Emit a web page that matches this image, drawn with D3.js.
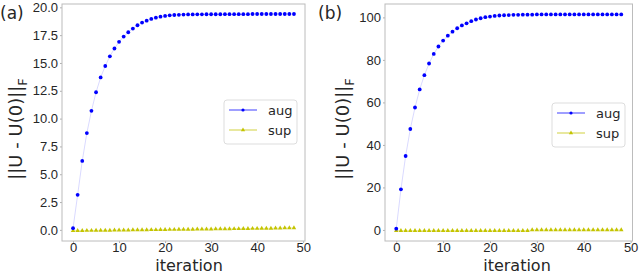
<!DOCTYPE html>
<html>
<head>
<meta charset="utf-8">
<script src="https://cdn.jsdelivr.net/npm/d3@7"></script>
<style>
  body { margin: 0; background: #fff; }
  svg { display: block; font-family: "DejaVu Sans", sans-serif; }
  .tick text { fill: #262626; font-size: 13px; }
  .tick line { stroke: #b0b0b0; }
  .domain { display: none; }
</style>
</head>
<body>
<div id="chart"></div>
<script>
// iteration index shared by all series
var iterations = d3.range(0, 49);

// panel (a)
var augA = [0.15, 3.15, 6.2, 8.7, 10.7, 12.37, 13.7, 14.73, 15.6, 16.3,
  16.9, 17.37, 17.76, 18.09, 18.39, 18.63, 18.8, 18.96, 19.07, 19.16,
  19.23, 19.28, 19.31, 19.33, 19.35, 19.36, 19.36, 19.37, 19.37, 19.38,
  19.38, 19.38, 19.38, 19.39, 19.39, 19.39, 19.39, 19.39, 19.39, 19.4,
  19.4, 19.4, 19.4, 19.4, 19.4, 19.4, 19.4, 19.4, 19.4];
var supA = [-0.08, -0.07, -0.07, -0.06, -0.06, -0.05, -0.05, -0.04, -0.04, -0.03,
  -0.03, -0.02, -0.02, -0.01, -0.01, 0.0, 0.0, 0.01, 0.01, 0.02,
  0.02, 0.03, 0.03, 0.04, 0.04, 0.05, 0.05, 0.06, 0.06, 0.07,
  0.07, 0.08, 0.08, 0.09, 0.09, 0.1, 0.1, 0.11, 0.11, 0.12,
  0.12, 0.13, 0.13, 0.14, 0.15, 0.16, 0.17, 0.18, 0.18];
var yTicksA = [0, 2.5, 5, 7.5, 10, 12.5, 15, 17.5, 20];

// panel (b)
var augB = [0.6, 19.1, 34.8, 47.5, 57.6, 66.1, 72.8, 78.3, 82.8, 86.3,
  89.1, 91.4, 93.3, 94.9, 96.2, 97.2, 98.2, 99.0, 99.6, 100.1,
  100.4, 100.7, 100.9, 101.0, 101.1, 101.2, 101.2, 101.3, 101.3, 101.3,
  101.4, 101.4, 101.4, 101.4, 101.4, 101.4, 101.4, 101.4, 101.4, 101.4,
  101.4, 101.4, 101.4, 101.4, 101.4, 101.4, 101.4, 101.4, 101.4];
var supB = [-0.3, -0.35, -0.35, -0.35, -0.3, -0.3, -0.35, -0.3, -0.3, -0.3,
  -0.3, -0.3, -0.3, -0.3, -0.3, -0.3, -0.3, -0.3, -0.3, -0.3,
  -0.3, -0.3, -0.3, -0.3, -0.3, -0.3, -0.3, -0.3, -0.3, 0.0,
  0.0, 0.0, 0.0, 0.0, 0.0, 0.0, 0.0, 0.0, 0.0, 0.0,
  0.0, 0.0, 0.0, 0.0, 0.0, 0.0, 0.0, 0.0, 0.0];
var yTicksB = [0, 20, 40, 60, 80, 100];

var xTicks = [0, 10, 20, 30, 40, 50];
var seriesNames = ["aug", "sup"];

var augColor = "#0000ff";
var supColor = "#c4c400";

var svg = d3.select("#chart").append("svg")
  .attr("width", 640)
  .attr("height", 275);

function drawPanel(config) {
  var x = d3.scaleLinear().domain([-2.4, 50.4]).range([config.left, config.right]);
  var y = d3.scaleLinear().domain(config.yDomain).range([241, 4]);

  var g = svg.append("g");

  g.append("g")
    .attr("transform", "translate(0,241)")
    .call(d3.axisBottom(x).tickValues(xTicks).tickSize(2).tickPadding(0));

  g.append("g")
    .attr("transform", "translate(" + config.left + ",0)")
    .call(d3.axisLeft(y).tickValues(config.yTicks).tickSize(2).tickPadding(2)
      .tickFormat(d3.format(config.yFormat)));

  g.append("rect")
    .attr("x", config.left)
    .attr("y", 4)
    .attr("width", config.right - config.left)
    .attr("height", 237)
    .attr("fill", "none")
    .attr("stroke", "#bcbcbc")
    .attr("stroke-width", 1);

  var line = d3.line()
    .x(function (d, i) { return x(iterations[i]); })
    .y(function (d) { return y(d); });

  g.append("path")
    .datum(config.aug)
    .attr("d", line)
    .attr("fill", "none")
    .attr("stroke", augColor)
    .attr("stroke-opacity", 0.15)
    .attr("stroke-width", 1);

  g.append("path")
    .datum(config.sup)
    .attr("d", line)
    .attr("fill", "none")
    .attr("stroke", supColor)
    .attr("stroke-opacity", 0.3)
    .attr("stroke-width", 1);

  g.selectAll(".sup-pt")
    .data(config.sup)
    .enter()
    .append("path")
    .attr("class", "sup-pt")
    .attr("d", d3.symbol().type(d3.symbolTriangle).size(9))
    .attr("transform", function (d, i) {
      return "translate(" + x(iterations[i]) + "," + y(d) + ")";
    })
    .attr("fill", supColor);

  g.selectAll(".aug-pt")
    .data(config.aug)
    .enter()
    .append("circle")
    .attr("class", "aug-pt")
    .attr("cx", function (d, i) { return x(iterations[i]); })
    .attr("cy", function (d) { return y(d); })
    .attr("r", 1.9)
    .attr("fill", augColor);

  // legend
  var lg = g.append("g").attr("transform", "translate(" + config.legendX + "," + config.legendY + ")");
  lg.append("rect")
    .attr("x", 0).attr("y", 0)
    .attr("width", 73).attr("height", 44)
    .attr("rx", 3)
    .attr("fill", "#fff")
    .attr("stroke", "#dddddd");

  var colors = [augColor, supColor];
  seriesNames.forEach(function (name, i) {
    var ly = 10 + i * 20;
    lg.append("line")
      .attr("x1", 5).attr("x2", 33)
      .attr("y1", ly).attr("y2", ly)
      .attr("stroke", colors[i])
      .attr("stroke-opacity", 0.5)
      .attr("stroke-width", 1.5);
    if (i === 0) {
      lg.append("circle").attr("cx", 19).attr("cy", ly).attr("r", 1.6).attr("fill", colors[i]);
    } else {
      lg.append("path")
        .attr("d", d3.symbol().type(d3.symbolTriangle).size(8))
        .attr("transform", "translate(19," + ly + ")")
        .attr("fill", colors[i]);
    }
    lg.append("text")
      .attr("x", 44)
      .attr("y", ly + 4.5)
      .attr("font-size", 13)
      .attr("fill", "#262626")
      .text(name);
  });

  // panel letter
  g.append("text")
    .attr("x", config.letterX)
    .attr("y", 19)
    .attr("font-size", 17)
    .attr("fill", "#262626")
    .text(config.letter);

  // y label
  var yl = g.append("text")
    .attr("transform", "translate(" + config.ylabelX + ",129) rotate(-90)")
    .attr("text-anchor", "middle")
    .attr("font-size", 18)
    .attr("fill", "#262626");
  yl.append("tspan").text("||U - U(0)||");
  yl.append("tspan").attr("dy", 5).attr("font-size", 13).text("F");

  // x label
  g.append("text")
    .attr("x", config.xlabelX)
    .attr("y", 270.5)
    .attr("text-anchor", "middle")
    .attr("font-size", 16)
    .attr("fill", "#262626")
    .text("iteration");
}

drawPanel({
  left: 62, right: 305,
  yDomain: [-1.0, 20.3], yTicks: yTicksA, yFormat: ".1f",
  aug: augA, sup: supA,
  legendX: 224, legendY: 100,
  letter: "(a)", letterX: 0,
  ylabelX: 22, xlabelX: 189
});

drawPanel({
  left: 385, right: 632.5,
  yDomain: [-5.2, 106.3], yTicks: yTicksB, yFormat: "d",
  aug: augB, sup: supB,
  legendX: 552, legendY: 103,
  letter: "(b)", letterX: 318,
  ylabelX: 349, xlabelX: 517
});
</script>
</body>
</html>
